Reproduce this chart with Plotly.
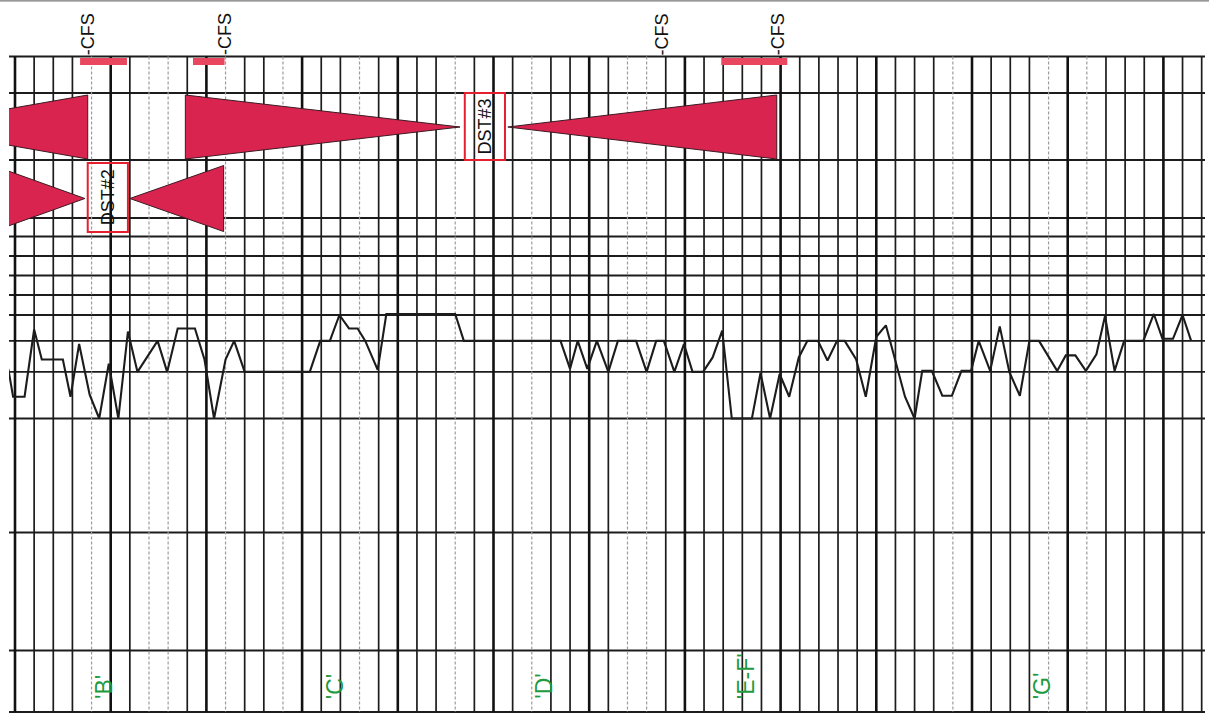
import plotly.graph_objects as go

# ---------------- depth scale (ft along the log) ----------------
rule_depths = list(range(0, 125, 2))          # a rule every 2 ft
faint_rules = [8, 14, 16, 22, 28, 36, 46, 54, 64, 66, 98, 108, 112]

# ---------------- CFS samples ----------------
cfs_label_depths = [7.6, 21.9, 67.6, 79.7]
cfs_bar_from = [6.8, 18.6, 73.8]
cfs_bar_to = [11.7, 21.9, 80.7]

# ---------------- drill stem tests ----------------
dst_names = ["DST#2", "DST#3"]
dst_from = [7.6, 47.0]
dst_to = [11.8, 51.2]
dst_row = ["B", "A"]

# wedges: wide end depth, tip depth, row
wedge_wide = [7.6, 17.8, 79.6, -2.3, 21.8]
wedge_tip = [-11.5, 46.5, 51.5, 7.3, 12.0]
wedge_row = ["A", "A", "A", "B", "B"]

# ---------------- formation picks ----------------
top_names = ["'B'", "'C'", "'D'", "'E-F'", "'G'"]
top_depths = [9.3, 33.4, 55.2, 76.4, 107.3]

# ---------------- drilling curve ----------------
curve_depth = [-0.7, -0.2, 1.0, 2.0, 2.8, 5.0, 5.8, 6.7, 7.8, 8.8, 9.8, 10.8, 11.8, 12.8,
               14.9, 15.9, 17.0, 18.8, 19.8, 20.8, 22.0, 22.9, 24.0, 30.8, 31.9, 32.9, 33.9,
               34.9, 35.8, 36.6, 37.9, 38.8, 46.0, 46.9, 57.0, 58.0, 58.8, 59.8, 60.8, 62.0,
               63.0, 64.9, 66.0, 67.0, 67.8, 68.9, 69.9, 70.8, 71.9, 72.9, 73.9, 74.9, 77.0,
               77.9, 78.9, 79.9, 80.9, 81.9, 82.8, 83.9, 84.9, 85.9, 86.7, 87.9, 88.9, 90.0,
               91.0, 92.0, 93.0, 94.0, 94.8, 95.8, 96.9, 97.9, 98.9, 99.9, 100.7, 101.9, 102.9,
               103.9, 105.0, 106.0, 107.0, 108.9, 109.8, 110.8, 111.9, 113.0, 113.9, 114.9,
               115.9, 117.9, 119.0, 119.9, 121.0, 122.0, 122.9]
curve_value = [4.8, 2.1, 2.1, 8.6, 5.7, 5.7, 2.1, 7.2, 2.3, 0.0, 5.3, 0.0, 8.4, 4.5,
               7.5, 4.5, 8.7, 8.7, 5.7, 0.0, 5.7, 7.5, 4.5, 4.5, 7.5, 7.5, 10.0,
               8.7, 8.7, 7.5, 4.7, 10.1, 10.1, 7.5, 7.5, 4.8, 7.5, 4.8, 7.5, 4.5,
               7.5, 7.5, 4.5, 7.5, 7.5, 4.5, 7.2, 4.5, 4.5, 5.9, 8.5, 0.0, 0.0,
               4.4, 0.0, 4.3, 2.1, 5.9, 7.5, 7.5, 5.6, 7.5, 7.5, 5.7, 2.1, 7.9,
               9.0, 5.6, 2.1, 0.0, 4.6, 4.6, 2.2, 2.2, 4.6, 4.6, 7.5, 4.6, 8.9,
               4.5, 2.2, 7.5, 7.5, 4.6, 6.1, 6.1, 4.6, 6.2, 9.9, 4.6, 7.5, 7.5,
               10.1, 7.7, 7.7, 10.0, 7.5]
curve_grid = [0, 4.5, 7.5, 10]
assert len(curve_depth) == len(curve_value)

# ---------------- sheet layout (vertical positions, top = 0) ----------------
W, H = 1209, 719
SHEET_TOP, SHEET_BOTTOM = 56.5, 712
sheet_lines = [56.5, 93, 160, 218, 236.5, 256, 275.5, 295, 532.5, 650.5, 712]
ROW_CENTRE = {"A": 127, "B": 198.5}
ROW_HALF = {"A": 32, "B": 33}
BOX_SPAN = {"A": (93, 160), "B": (163, 232)}
BAR_SPAN = (58, 65)
TOP_LABEL_Y = 700
# curve track: value 0 at 418.5, value 10 at 315
TRACK_BASE, TRACK_PER_UNIT = 418.5, 10.35
TRACK_RANGE = (-0.6, 10.6)

# x mapping: rule at 0 ft sits at 15 px, 9.57 px per ft; plot spans 9..1205 px
PX0, PX_PER_FT = 15.0, 9.57
ML, MR = 9, 4
x_range = [(ML - PX0) / PX_PER_FT, (W - MR - PX0) / PX_PER_FT]

RED = "#DA2450"
BAR_RED = "#E8475F"
BOX_RED = "#E4202E"
GREEN = "#1F9A3F"
INK = "#1c1c1c"
FONT = "Liberation Sans, Arial, sans-serif"

fig = go.Figure()

# wedges
for wide, tip, row in zip(wedge_wide, wedge_tip, wedge_row):
    c, h = ROW_CENTRE[row], ROW_HALF[row]
    fig.add_trace(go.Scatter(
        x=[tip, wide, wide, tip], y=[c, c - h, c + h, c],
        mode="lines", fill="toself", fillcolor=RED,
        line=dict(color="#3b1a22", width=1),
        hoverinfo="skip", showlegend=False))

# drilling curve on its own track axis
fig.add_trace(go.Scatter(
    x=curve_depth, y=curve_value, yaxis="y2", mode="lines",
    line=dict(color=INK, width=2.1), hoverinfo="skip", showlegend=False))

shapes = []
# vertical depth rules
for d in rule_depths:
    if d in faint_rules:
        ln = dict(color="#9c9c9c", width=1.2, dash="3px,2px")
    elif d % 10 == 0:
        ln = dict(color="#111111", width=2.6)
    else:
        ln = dict(color=INK, width=1.7)
    shapes.append(dict(type="line", xref="x", yref="y", x0=d, x1=d,
                       y0=SHEET_TOP, y1=SHEET_BOTTOM, line=ln, layer="below"))
# horizontal sheet lines
for yv in sheet_lines:
    shapes.append(dict(type="line", xref="paper", yref="y", x0=0, x1=1,
                       y0=yv, y1=yv, line=dict(color=INK, width=1.9), layer="below"))
# curve track lines
for v in curve_grid:
    shapes.append(dict(type="line", xref="paper", yref="y2", x0=0, x1=1,
                       y0=v, y1=v, line=dict(color=INK, width=1.9), layer="below"))
# scan edge at the very top
shapes.append(dict(type="line", xref="paper", yref="y", x0=-0.01, x1=1.01,
                   y0=0.8, y1=0.8, line=dict(color="#777777", width=1.2)))
# CFS bars
for a, b in zip(cfs_bar_from, cfs_bar_to):
    shapes.append(dict(type="rect", xref="x", yref="y", x0=a, x1=b,
                       y0=BAR_SPAN[0], y1=BAR_SPAN[1], fillcolor=BAR_RED,
                       line=dict(width=0), layer="above"))
# DST boxes
for a, b, row in zip(dst_from, dst_to, dst_row):
    y0, y1 = BOX_SPAN[row]
    shapes.append(dict(type="rect", xref="x", yref="y", x0=a, x1=b, y0=y0, y1=y1,
                       line=dict(color=BOX_RED, width=2), fillcolor="rgba(0,0,0,0)",
                       layer="above"))

annotations = []
for d in cfs_label_depths:
    annotations.append(dict(x=d, y=SHEET_TOP, xref="x", yref="y", text="-CFS",
                            textangle=-90, showarrow=False, xanchor="center",
                            yanchor="bottom", borderpad=0,
                            font=dict(family=FONT, size=18, color="#111111")))
for name, a, b, row in zip(dst_names, dst_from, dst_to, dst_row):
    y0, y1 = BOX_SPAN[row]
    annotations.append(dict(x=(a + b) / 2, y=(y0 + y1) / 2, xref="x", yref="y",
                            text=name, textangle=-90, showarrow=False,
                            xanchor="center", yanchor="middle", borderpad=0,
                            font=dict(family=FONT, size=18, color="#111111")))
for name, d in zip(top_names, top_depths):
    annotations.append(dict(x=d, y=TOP_LABEL_Y, xref="x", yref="y", text=name,
                            textangle=-90, showarrow=False, xanchor="center",
                            yanchor="bottom", borderpad=0,
                            font=dict(family=FONT, size=23, color=GREEN)))

track_lo = TRACK_BASE - (TRACK_RANGE[0]) * TRACK_PER_UNIT
track_hi = TRACK_BASE - (TRACK_RANGE[1]) * TRACK_PER_UNIT
fig.update_layout(
    width=W, height=H,
    margin=dict(l=ML, r=MR, t=0, b=0),
    paper_bgcolor="white", plot_bgcolor="rgba(0,0,0,0)",
    showlegend=False,
    xaxis=dict(range=x_range, visible=False, showgrid=False, zeroline=False),
    yaxis=dict(range=[H, 0], visible=False, showgrid=False, zeroline=False,
               domain=[0, 1]),
    yaxis2=dict(range=list(TRACK_RANGE), visible=False, showgrid=False, zeroline=False,
                anchor="x", domain=[1 - track_lo / H, 1 - track_hi / H]),
    shapes=shapes, annotations=annotations,
)

fig.write_html("out.html")
